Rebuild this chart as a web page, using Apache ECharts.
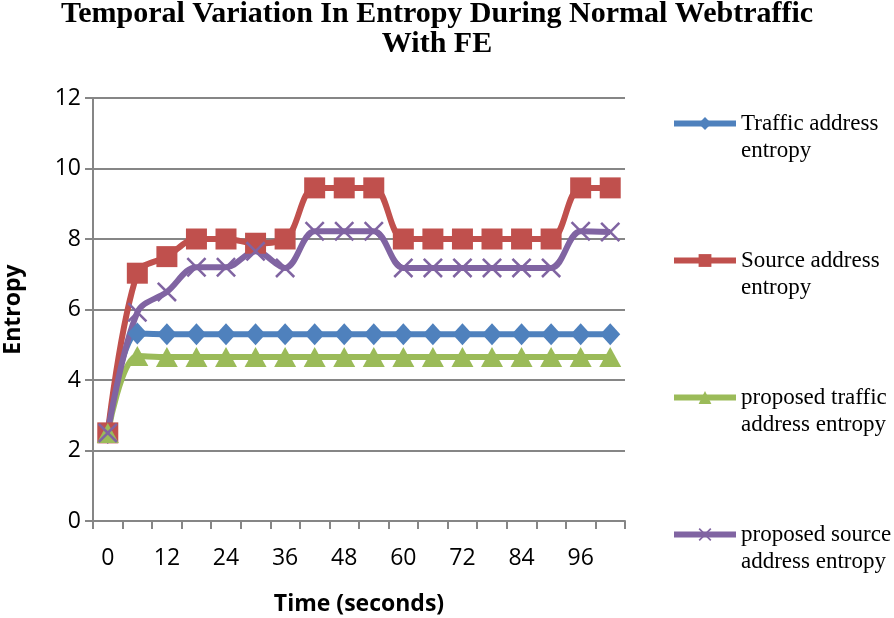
<!DOCTYPE html>
<html><head><meta charset="utf-8">
<script src="https://cdn.jsdelivr.net/npm/echarts@6/dist/echarts.min.js"></script>
<style>html,body{margin:0;padding:0;background:#fff}#c{width:894px;height:618px}</style>
</head><body><div id="c"></div>
<script>
var categories = ['0','6','12','18','24','30','36','42','48','54','60','66','72','78','84','90','96','102'];
var trafficAddress = [2.5,5.32,5.3,5.3,5.3,5.3,5.3,5.3,5.3,5.3,5.3,5.3,5.3,5.3,5.3,5.3,5.3,5.3];
var sourceAddress = [2.5,7.03,7.5,8.0,8.0,7.88,8.0,9.45,9.45,9.45,8.0,8.0,8.0,8.0,8.0,8.0,9.45,9.45];
var proposedTraffic = [2.5,4.68,4.65,4.65,4.65,4.65,4.65,4.65,4.65,4.65,4.65,4.65,4.65,4.65,4.65,4.65,4.65,4.65];
var proposedSource = [2.5,5.92,6.5,7.2,7.2,7.65,7.18,8.22,8.22,8.22,7.18,7.18,7.18,7.18,7.18,7.18,8.22,8.2];
var yTicks = [0,2,4,6,8,10,12];

var names = ['Traffic address entropy','Source address entropy','proposed traffic address entropy','proposed source address entropy'];
var wrapped = {
  'Traffic address entropy':' \nTraffic address\nentropy',
  'Source address entropy':' \nSource address\nentropy',
  'proposed traffic address entropy':' \nproposed traffic\naddress entropy',
  'proposed source address entropy':' \nproposed source\naddress entropy'
};
var xPath = 'path://M0,0.9 L0.9,0 L5,4.1 L9.1,0 L10,0.9 L5.9,5 L10,9.1 L9.1,10 L5,5.9 L0.9,10 L0,9.1 L4.1,5 Z';

function mk(name, data, color, symbol, size){
  return {name:name,type:'line',data:data,smooth:0.35,symbol:symbol,symbolSize:size,
    showAllSymbol:true,
    lineStyle:{color:color,width:6},itemStyle:{color:color},emphasis:{disabled:true}};
}
var chart = echarts.init(document.getElementById('c'));
chart.setOption({
  animation:false,
  color:['#4F81BD','#C0504D','#9BBB59','#8064A2'],
  title:{text:'Temporal Variation In Entropy During Normal Webtraffic\nWith FE',left:432,top:-6,textAlign:'center',
    textStyle:{fontFamily:'Liberation Serif',fontWeight:'bold',fontSize:30,lineHeight:30,color:'#000'}},
  grid:{left:93,right:269,top:98,bottom:97,containLabel:false,outerBoundsMode:'none'},
  legend:{orient:'vertical',left:666,top:78,itemWidth:62,itemHeight:16,itemGap:56,
    data:names,
    lineStyle:{width:6},
    formatter:function(n){return wrapped[n];},
    textStyle:{fontFamily:'Liberation Serif',fontSize:23,lineHeight:27,color:'#000'}},
  xAxis:{type:'category',data:categories,boundaryGap:true,
    name:'Time (seconds)',nameLocation:'middle',nameGap:72,
    nameTextStyle:{fontFamily:'Open Sans',fontWeight:'bold',fontSize:23,color:'#000'},
    axisLine:{lineStyle:{color:'#868686',width:2}},
    axisTick:{show:true,length:8,interval:0,lineStyle:{color:'#868686',width:2}},
    axisLabel:{interval:1,margin:26,fontFamily:'Open Sans',fontSize:23,color:'#000'}},
  yAxis:{type:'value',min:0,max:12,interval:2,
    name:'Entropy',nameLocation:'middle',nameGap:68,
    nameTextStyle:{fontFamily:'Open Sans',fontWeight:'bold',fontSize:23,color:'#000'},
    axisLine:{show:true,lineStyle:{color:'#868686',width:2}},
    axisTick:{show:true,length:8,lineStyle:{color:'#868686',width:2}},
    splitLine:{lineStyle:{color:'#868686',width:2}},
    axisLabel:{margin:12,fontFamily:'Open Sans',fontSize:23,color:'#000',
      formatter:function(v){return yTicks.indexOf(v)>=0?String(v):'';}}},
  series:[
    mk(names[0],trafficAddress,'#4F81BD','diamond',[20,22]),
    mk(names[1],sourceAddress,'#C0504D','rect',21),
    mk(names[2],proposedTraffic,'#9BBB59','triangle',[22,20]),
    mk(names[3],proposedSource,'#8064A2',xPath,20)
  ]
});
</script></body></html>
